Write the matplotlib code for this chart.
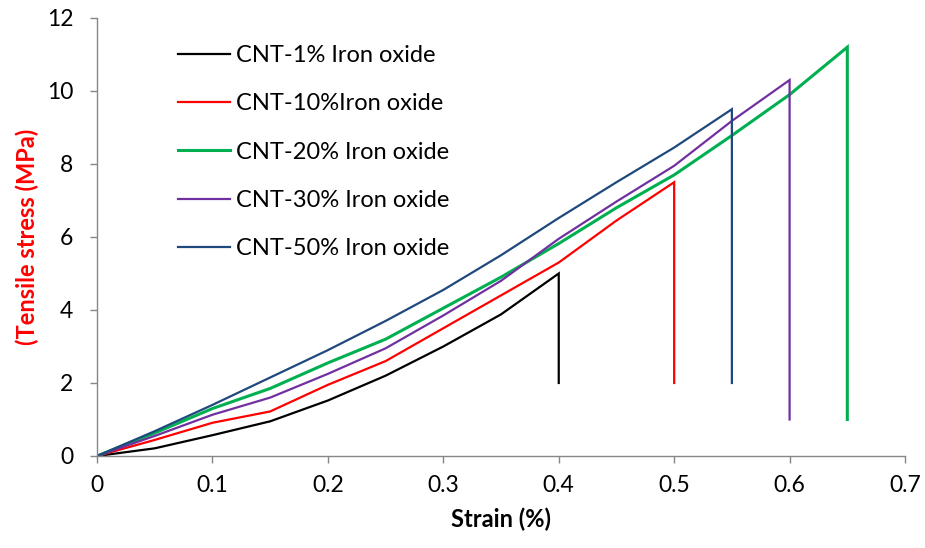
import matplotlib.pyplot as plt

# strain (%) and tensile stress (MPa)
strain_1 = [0, 0.05, 0.1, 0.15, 0.2, 0.25, 0.3, 0.35, 0.4, 0.4]
stress_1 = [0, 0.21, 0.57, 0.95, 1.52, 2.2, 3.0, 3.88, 5.0, 2.0]

strain_10 = [0, 0.05, 0.1, 0.15, 0.2, 0.25, 0.3, 0.35, 0.4, 0.45, 0.5, 0.5]
stress_10 = [0, 0.44, 0.91, 1.22, 1.95, 2.6, 3.5, 4.4, 5.3, 6.45, 7.5, 2.0]

strain_20 = [0, 0.05, 0.1, 0.15, 0.2, 0.25, 0.3, 0.35, 0.4, 0.45, 0.5, 0.55, 0.6, 0.65, 0.65]
stress_20 = [0, 0.63, 1.3, 1.85, 2.55, 3.2, 4.05, 4.9, 5.82, 6.8, 7.7, 8.78, 9.9, 11.2, 1.0]

strain_30 = [0, 0.05, 0.1, 0.15, 0.2, 0.25, 0.3, 0.35, 0.4, 0.45, 0.5, 0.55, 0.6, 0.6]
stress_30 = [0, 0.55, 1.13, 1.6, 2.25, 2.95, 3.85, 4.8, 5.95, 6.97, 7.95, 9.18, 10.3, 1.0]

strain_50 = [0, 0.05, 0.1, 0.15, 0.2, 0.25, 0.3, 0.35, 0.4, 0.45, 0.5, 0.55, 0.55]
stress_50 = [0, 0.68, 1.4, 2.15, 2.9, 3.7, 4.55, 5.5, 6.52, 7.5, 8.45, 9.5, 2.0]

labels = ['CNT-1% Iron oxide', 'CNT-10%Iron oxide', 'CNT-20% Iron oxide',
          'CNT-30% Iron oxide', 'CNT-50% Iron oxide']
colors = ['#000000', '#FF0000', '#00B050', '#7030A0', '#1F497D']
widths = [1.6, 1.6, 2.2, 1.6, 1.6]

x_ticks = [0, 0.1, 0.2, 0.3, 0.4, 0.5, 0.6, 0.7]
x_tick_labels = ['0', '0.1', '0.2', '0.3', '0.4', '0.5', '0.6', '0.7']
y_ticks = [0, 2, 4, 6, 8, 10, 12]

plt.rcParams['font.family'] = ['Lato', 'DejaVu Sans']

fig = plt.figure(figsize=(9.25, 5.48), dpi=100)
ax = fig.add_axes([0.1049, 0.1679, 0.8735, 0.7993])

series = [(strain_1, stress_1), (strain_10, stress_10), (strain_20, stress_20),
          (strain_30, stress_30), (strain_50, stress_50)]
for (xs, ys), lab, c, w in zip(series, labels, colors, widths):
    ax.plot(xs, ys, color=c, lw=w, label=lab, solid_joinstyle='miter')

ax.set_xlim(0, 0.7)
ax.set_ylim(0, 12)
ax.set_xticks(x_ticks)
ax.set_xticklabels(x_tick_labels)
ax.set_yticks(y_ticks)

for side in ['top', 'right']:
    ax.spines[side].set_visible(False)
for side in ['left', 'bottom']:
    ax.spines[side].set_color('#868686')
    ax.spines[side].set_linewidth(1.0)
ax.tick_params(colors='#868686', length=5, width=1.0, direction='out',
               labelcolor='black', labelsize=16.5)
ax.tick_params(axis='x', pad=9)
ax.tick_params(axis='y', pad=12)

ax.set_xlabel('Strain (%)', fontsize=17, fontweight='bold', labelpad=8)
ax.set_ylabel('(Tensile stress (MPa)', fontsize=17, fontweight='bold',
              color='#FF0000', labelpad=6)

ax.legend(loc='upper left', bbox_to_anchor=(0.074, 0.987), frameon=False,
          fontsize=17, handlelength=2.2, handletextpad=0.25,
          labelspacing=1.16, borderpad=0.4)

fig.savefig('out.png', dpi=100)
